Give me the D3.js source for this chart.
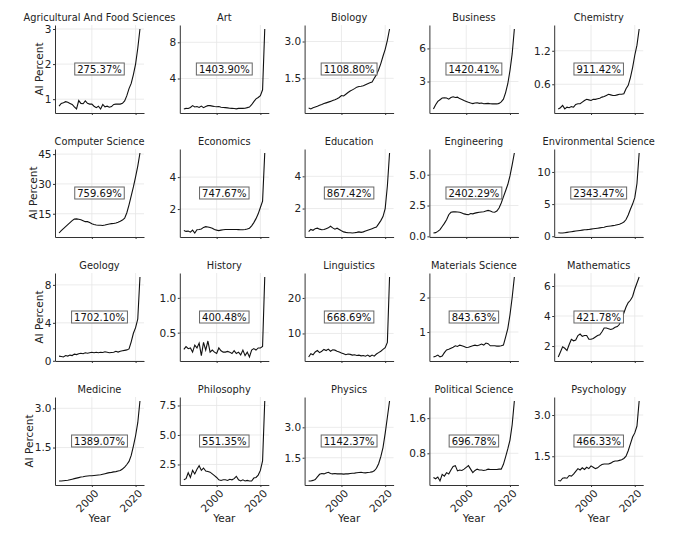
<!DOCTYPE html>
<html>
<head>
<meta charset="utf-8">
<script src="https://cdn.jsdelivr.net/npm/d3@7"></script>
<style>
  body { margin: 0; background: #fff; }
  text { font-family: 'DejaVu Sans', sans-serif; }
</style>
</head>
<body>
<div id="chart"></div>
<script>
const years = [1985, 1986, 1987, 1988, 1989, 1990, 1991, 1992, 1993, 1994,
  1995, 1996, 1997, 1998, 1999, 2000, 2001, 2002, 2003, 2004,
  2005, 2006, 2007, 2008, 2009, 2010, 2011, 2012, 2013, 2014,
  2015, 2016, 2017, 2018, 2019, 2020, 2021, 2022]

const xTicks = [2000, 2020]

const fields = ['Agricultural And Food Sciences', 'Art', 'Biology', 'Business', 'Chemistry',
  'Computer Science', 'Economics', 'Education', 'Engineering', 'Environmental Science',
  'Geology', 'History', 'Linguistics', 'Materials Science', 'Mathematics',
  'Medicine', 'Philosophy', 'Physics', 'Political Science', 'Psychology']

const growthLabels = ['275.37%', '1403.90%', '1108.80%', '1420.41%', '911.42%',
  '759.69%', '747.67%', '867.42%', '2402.29%', '2343.47%',
  '1702.10%', '400.48%', '668.69%', '843.63%', '421.78%',
  '1389.07%', '551.35%', '1142.37%', '696.78%', '466.33%']

const yTicks = [[1, 2, 3], [4, 8], [1.5, 3.0], [3, 6], [0.6, 1.2],
  [15, 30, 45], [2, 4], [2, 4], [0, 2.5, 5], [0, 5, 10],
  [0, 4, 8], [0.5, 1.0], [10, 20], [1, 2], [2, 4, 6],
  [1.5, 3.0], [2.5, 5, 7.5], [1.5, 3.0], [0.8, 1.6], [1.5, 3.0]]

// AI share (%) of papers per year, 1985-2022
const agricultural = [0.80, 0.88, 0.90, 0.93, 0.91, 0.88, 0.85, 0.78, 0.72, 0.96,
  0.88, 0.87, 0.95, 0.88, 0.86, 0.86, 0.80, 0.76, 0.80, 0.72,
  0.85, 0.78, 0.80, 0.77, 0.79, 0.85, 0.86, 0.86, 0.86, 0.88,
  0.95, 1.10, 1.30, 1.45, 1.70, 2.00, 2.45, 3.00]
const art = [0.63, 0.70, 0.68, 0.80, 1.00, 0.85, 0.90, 0.80, 0.95, 0.78,
  0.90, 1.00, 1.00, 0.95, 0.90, 0.88, 0.90, 0.82, 0.80, 0.78,
  0.75, 0.72, 0.70, 0.68, 0.65, 0.70, 0.72, 0.70, 0.72, 0.78,
  0.85, 1.10, 1.45, 1.75, 1.90, 2.10, 2.75, 9.47]
const biology = [0.29, 0.25, 0.30, 0.33, 0.36, 0.40, 0.43, 0.47, 0.50, 0.53,
  0.56, 0.60, 0.63, 0.67, 0.72, 0.80, 0.78, 0.85, 0.92, 0.98,
  1.03, 1.08, 1.14, 1.17, 1.18, 1.20, 1.24, 1.28, 1.32, 1.35,
  1.50, 1.65, 1.85, 2.10, 2.40, 2.68, 3.05, 3.51]
const business = [0.51, 0.90, 1.20, 1.35, 1.50, 1.52, 1.50, 1.40, 1.55, 1.62,
  1.55, 1.58, 1.45, 1.38, 1.28, 1.20, 1.12, 1.05, 1.00, 1.05,
  1.08, 1.02, 1.05, 0.98, 1.00, 1.02, 0.98, 0.97, 0.98, 0.97,
  1.02, 1.15, 1.40, 2.00, 2.80, 4.00, 5.50, 7.76]
const chemistry = [0.157, 0.18, 0.22, 0.16, 0.19, 0.18, 0.20, 0.19, 0.24, 0.25,
  0.25, 0.28, 0.31, 0.33, 0.32, 0.31, 0.33, 0.33, 0.34, 0.35,
  0.37, 0.38, 0.40, 0.42, 0.41, 0.40, 0.40, 0.41, 0.42, 0.42,
  0.43, 0.52, 0.58, 0.72, 0.90, 1.12, 1.30, 1.59]
const computerScience = [5.30, 6.50, 7.50, 8.50, 9.50, 10.5, 11.5, 12.3, 12.4, 12.2,
  12.0, 11.5, 11.0, 11.0, 10.6, 10.0, 9.6, 9.3, 9.2, 9.2,
  9.1, 9.3, 9.6, 9.8, 10.0, 10.1, 10.3, 10.7, 11.2, 11.8,
  12.8, 15.5, 19.5, 24.0, 28.5, 33.5, 39.0, 45.56]
const economics = [0.65, 0.60, 0.62, 0.55, 0.68, 0.50, 0.70, 0.72, 0.75, 0.85,
  0.90, 0.88, 0.85, 0.80, 0.72, 0.68, 0.65, 0.68, 0.70, 0.72,
  0.72, 0.72, 0.72, 0.72, 0.72, 0.71, 0.70, 0.70, 0.72, 0.75,
  0.80, 0.95, 1.15, 1.40, 1.70, 2.10, 2.50, 5.51]
const education = [0.563, 0.70, 0.65, 0.75, 0.78, 0.72, 0.68, 0.70, 0.75, 0.80,
  0.90, 0.80, 0.72, 0.78, 0.70, 0.62, 0.55, 0.52, 0.50, 0.50,
  0.48, 0.50, 0.52, 0.55, 0.52, 0.55, 0.60, 0.65, 0.70, 0.75,
  0.80, 0.85, 1.05, 1.25, 1.50, 2.00, 3.40, 5.45]
const engineering = [0.27, 0.30, 0.40, 0.55, 0.80, 1.05, 1.35, 1.75, 1.95, 1.98,
  1.98, 1.97, 1.95, 1.90, 1.82, 1.78, 1.75, 1.85, 1.82, 1.88,
  1.92, 1.95, 1.98, 2.00, 2.05, 2.10, 2.05, 1.98, 1.95, 2.05,
  2.30, 2.70, 3.20, 3.70, 4.20, 4.90, 5.80, 6.76]
const environmental = [0.53, 0.50, 0.50, 0.55, 0.60, 0.65, 0.70, 0.75, 0.80, 0.85,
  0.90, 0.95, 1.00, 1.02, 1.05, 1.10, 1.15, 1.20, 1.25, 1.30,
  1.35, 1.40, 1.50, 1.55, 1.60, 1.65, 1.70, 1.78, 1.85, 2.00,
  2.20, 2.60, 3.30, 4.20, 5.00, 6.00, 8.20, 12.95]
const geology = [0.49, 0.45, 0.40, 0.55, 0.50, 0.60, 0.55, 0.70, 0.65, 0.75,
  0.80, 0.75, 0.85, 0.80, 0.85, 0.90, 0.85, 0.90, 0.85, 0.90,
  0.88, 0.95, 0.90, 0.85, 0.88, 0.90, 1.00, 0.92, 1.00, 1.05,
  1.10, 1.15, 1.25, 2.00, 2.90, 3.50, 4.40, 8.83]
const history = [0.26, 0.30, 0.27, 0.28, 0.22, 0.32, 0.28, 0.35, 0.17, 0.36,
  0.25, 0.38, 0.22, 0.25, 0.22, 0.20, 0.28, 0.24, 0.22, 0.22,
  0.23, 0.22, 0.20, 0.24, 0.20, 0.22, 0.18, 0.25, 0.17, 0.22,
  0.15, 0.25, 0.27, 0.25, 0.28, 0.28, 0.30, 1.30]
const linguistics = [3.37, 4.30, 4.00, 4.80, 5.20, 4.60, 5.00, 5.50, 5.20, 5.60,
  5.00, 5.40, 5.30, 5.00, 4.80, 4.50, 4.30, 4.00, 4.20, 4.10,
  3.90, 4.00, 3.80, 3.90, 3.70, 3.80, 3.60, 3.90, 3.50, 3.90,
  3.60, 4.20, 4.60, 5.00, 5.50, 6.00, 7.50, 25.9]
const materials = [0.275, 0.30, 0.33, 0.28, 0.30, 0.40, 0.48, 0.50, 0.53, 0.56,
  0.60, 0.58, 0.62, 0.60, 0.58, 0.55, 0.56, 0.58, 0.60, 0.62,
  0.60, 0.62, 0.65, 0.62, 0.68, 0.66, 0.60, 0.60, 0.60, 0.59,
  0.59, 0.60, 0.62, 0.85, 1.10, 1.50, 2.00, 2.595]
const mathematics = [1.27, 1.60, 1.95, 1.85, 1.70, 2.10, 2.45, 2.35, 2.40, 2.70,
  2.80, 2.65, 2.70, 2.70, 2.45, 2.45, 2.50, 2.60, 2.70, 2.75,
  2.95, 3.20, 3.20, 3.15, 3.10, 3.15, 3.25, 3.30, 3.45, 3.80,
  4.20, 4.60, 4.90, 5.05, 5.30, 5.80, 6.20, 6.60]
const medicine = [0.22, 0.22, 0.23, 0.24, 0.25, 0.27, 0.29, 0.31, 0.33, 0.35,
  0.37, 0.38, 0.40, 0.41, 0.42, 0.42, 0.43, 0.44, 0.45, 0.46,
  0.48, 0.50, 0.52, 0.54, 0.55, 0.57, 0.58, 0.60, 0.62, 0.68,
  0.75, 0.85, 0.97, 1.20, 1.55, 1.95, 2.45, 3.28]
const philosophy = [1.21, 1.30, 1.80, 1.40, 2.00, 1.70, 2.10, 2.40, 2.00, 2.20,
  1.95, 1.90, 1.85, 1.70, 1.55, 1.40, 1.20, 1.15, 1.20, 1.20,
  1.15, 1.25, 1.20, 1.30, 1.50, 1.20, 1.10, 1.20, 1.10, 1.15,
  1.10, 1.10, 1.35, 1.40, 1.60, 2.00, 2.80, 7.88]
const physics = [0.35, 0.35, 0.38, 0.42, 0.55, 0.68, 0.72, 0.70, 0.75, 0.78,
  0.72, 0.70, 0.72, 0.70, 0.70, 0.70, 0.69, 0.70, 0.70, 0.72,
  0.73, 0.74, 0.76, 0.77, 0.78, 0.76, 0.75, 0.77, 0.78, 0.80,
  0.85, 0.98, 1.20, 1.55, 2.00, 2.70, 3.50, 4.30]
const politicalScience = [0.25, 0.22, 0.26, 0.17, 0.32, 0.28, 0.36, 0.33, 0.42, 0.50,
  0.52, 0.40, 0.42, 0.41, 0.44, 0.48, 0.52, 0.44, 0.36, 0.41,
  0.44, 0.42, 0.42, 0.41, 0.42, 0.44, 0.43, 0.43, 0.43, 0.43,
  0.44, 0.44, 0.55, 0.72, 0.90, 1.10, 1.45, 1.99]
const psychology = [0.62, 0.60, 0.70, 0.72, 0.70, 0.80, 0.78, 0.85, 0.95, 1.05,
  1.00, 1.08, 1.02, 1.10, 1.05, 1.15, 1.10, 1.05, 1.08, 1.15,
  1.20, 1.22, 1.22, 1.22, 1.25, 1.30, 1.33, 1.33, 1.35, 1.37,
  1.42, 1.50, 1.70, 1.95, 2.20, 2.35, 2.60, 3.51]

const series = [agricultural, art, biology, business, chemistry,
  computerScience, economics, education, engineering, environmental,
  geology, history, linguistics, materials, mathematics,
  medicine, philosophy, physics, politicalScience, psychology]

const width = 680
const height = 538
const margin = { top: 25, left: 55 }
const colStep = 124.8
const rowStep = 124
const plotW = 89
const plotH = 88

const svg = d3
  .select('#chart')
  .append('svg')
  .attr('width', width)
  .attr('height', height)

// 5% padding on both axes, like the original plotting library
const yearPad = (d3.max(years) - d3.min(years)) * 0.05
const xPositionScale = d3
  .scaleLinear()
  .domain([d3.min(years) - yearPad, d3.max(years) + yearPad])
  .range([0, plotW])

fields.forEach((name, i) => {
  const col = i % 5
  const row = Math.floor(i / 5)
  const values = series[i]
  const ticks = yTicks[i]

  const g = svg
    .append('g')
    .attr('transform', `translate(${margin.left + col * colStep},${margin.top + row * rowStep})`)

  const [lo, hi] = d3.extent(values)
  const pad = (hi - lo) * 0.05
  const yPositionScale = d3
    .scaleLinear()
    .domain([lo - pad, hi + pad])
    .range([plotH, 0])

  // grid
  g.selectAll('.grid-x')
    .data(xTicks)
    .enter()
    .append('line')
    .attr('x1', d => xPositionScale(d))
    .attr('x2', d => xPositionScale(d))
    .attr('y1', 0)
    .attr('y2', plotH)
    .attr('stroke', '#e6e6e6')
    .attr('stroke-width', 0.8)

  g.selectAll('.grid-y')
    .data(ticks)
    .enter()
    .append('line')
    .attr('x1', 0)
    .attr('x2', plotW)
    .attr('y1', d => yPositionScale(d))
    .attr('y2', d => yPositionScale(d))
    .attr('stroke', '#e6e6e6')
    .attr('stroke-width', 0.8)

  // axes
  const decimals = ticks.some(t => !Number.isInteger(t))
  const yAxis = d3
    .axisLeft(yPositionScale)
    .tickValues(ticks)
    .tickFormat(decimals ? d3.format('.1f') : d3.format('d'))
    .tickSize(2)
    .tickPadding(1.5)
    .tickSizeOuter(0)

  const yg = g.append('g').attr('class', 'axis y-axis').call(yAxis)

  const xAxis = d3
    .axisBottom(xPositionScale)
    .tickValues(xTicks)
    .tickFormat(row === 3 ? d3.format('d') : '')
    .tickSize(2)
    .tickSizeOuter(0)

  const xg = g
    .append('g')
    .attr('class', 'axis x-axis')
    .attr('transform', `translate(0,${plotH})`)
    .call(xAxis)

  g.selectAll('.axis path, .axis line').attr('stroke', '#333').attr('stroke-width', 1)
  yg.selectAll('text')
    .attr('font-family', 'DejaVu Sans')
    .attr('font-size', 10.5)
    .attr('fill', '#222')

  if (row === 3) {
    xg.selectAll('text')
      .attr('font-family', 'DejaVu Sans')
      .attr('font-size', 10.5)
      .attr('fill', '#222')
      .attr('text-anchor', 'end')
      .attr('dy', null)
      .attr('y', 0)
      .attr('transform', 'translate(7,9) rotate(-45)')
  }

  // line
  const line = d3
    .line()
    .x((d, j) => xPositionScale(years[j]))
    .y(d => yPositionScale(d))

  g.append('path')
    .datum(values)
    .attr('d', line)
    .attr('fill', 'none')
    .attr('stroke', '#111')
    .attr('stroke-width', 1.1)

  // title
  g.append('text')
    .attr('x', plotW / 2)
    .attr('y', -4)
    .attr('text-anchor', 'middle')
    .attr('font-size', 9.8)
    .attr('fill', '#222')
    .text(name)

  // growth label
  const label = g.append('g').attr('transform', `translate(${plotW / 2},${plotH / 2})`)
  const txt = label
    .append('text')
    .attr('text-anchor', 'middle')
    .attr('dy', '0.35em')
    .attr('font-size', 10)
    .attr('fill', '#111')
    .text(growthLabels[i])
  const bb = txt.node().getBBox()
  label
    .insert('rect', 'text')
    .attr('x', bb.x - 2.5)
    .attr('y', bb.y - 0.5)
    .attr('width', bb.width + 5)
    .attr('height', bb.height + 1)
    .attr('fill', '#fff')
    .attr('stroke', '#666')
    .attr('stroke-width', 1)

  // axis titles: y title sits just left of the widest tick label
  if (col === 0) {
    const tickW = d3.max(yg.selectAll('text').nodes(), n => n.getBBox().width)
    g.append('text')
      .attr('transform', `translate(${-3.5 - tickW - 1.5},${plotH / 2}) rotate(-90)`)
      .attr('text-anchor', 'middle')
      .attr('font-size', 10.5)
      .attr('fill', '#222')
      .text('AI Percent')
  }
  if (row === 3) {
    g.append('text')
      .attr('x', plotW / 2)
      .attr('y', plotH + 37)
      .attr('text-anchor', 'middle')
      .attr('font-size', 10.5)
      .attr('fill', '#222')
      .text('Year')
  }
})
</script>
</body>
</html>
